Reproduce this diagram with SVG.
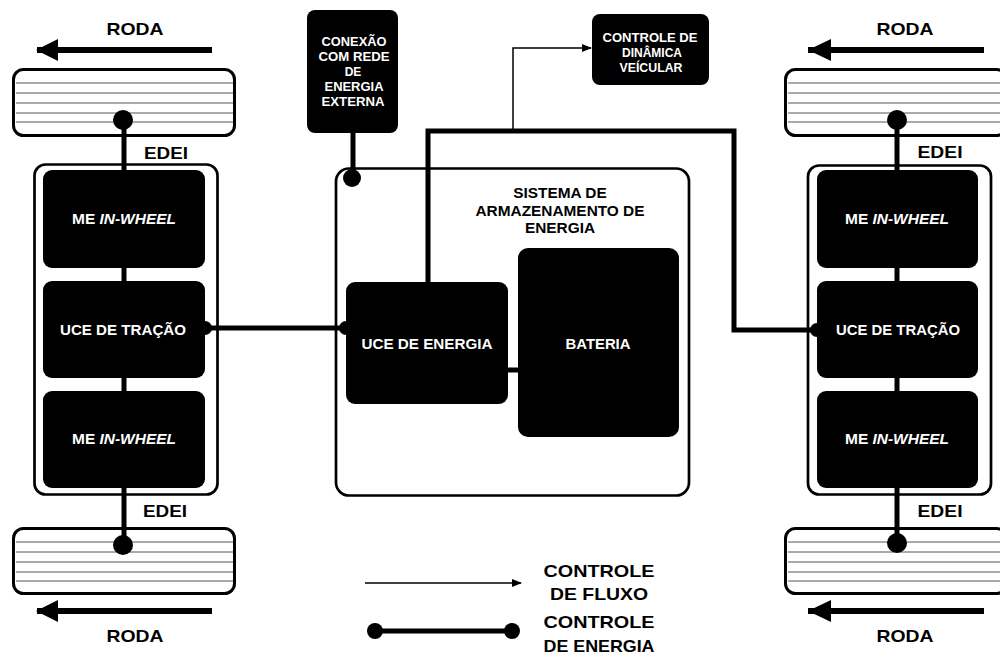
<svg xmlns="http://www.w3.org/2000/svg" width="1000" height="657" viewBox="0 0 1000 657">
<style>
text{font-family:"Liberation Sans",Arial,sans-serif;font-weight:bold;text-anchor:middle}
.w{fill:#fff}
.blk{fill:#000}
.wheel{fill:#fff;stroke:#000;stroke-width:3}
.tread{stroke:#555;stroke-width:1}
.cont{fill:#fff;stroke:#000;stroke-width:2.7}
.en{fill:none;stroke:#000;stroke-width:5}
.fl{fill:none;stroke:#000;stroke-width:1.5}
.big{font-size:17px}
.mid{font-size:14px}
.ttl{font-size:15.4px}
.sm{font-size:12px}
</style>
<defs>
<marker id="ah" markerWidth="10" markerHeight="8" refX="9" refY="4" orient="auto" markerUnits="userSpaceOnUse">
<path d="M0,0 L10,4 L0,8 Z" fill="#000"/>
</marker>
<g id="tl">
<line class="tread" x1="16" y1="0" x2="233" y2="0"/>
<line class="tread" x1="16" y1="10" x2="233" y2="10"/>
<line class="tread" x1="16" y1="20" x2="233" y2="20"/>
<line class="tread" x1="16" y1="30" x2="233" y2="30"/>
<line class="tread" x1="16" y1="39" x2="233" y2="39"/>
</g>
</defs>

<!-- wheels -->
<g id="wheel-tl">
<rect class="wheel" x="13.5" y="69.5" width="221" height="66" rx="10"/>
<use href="#tl" y="83"/>
<line x1="37" y1="50" x2="212" y2="50" stroke="#000" stroke-width="6"/>
<polygon points="36,50 58,39 58,61" fill="#000"/>
<text class="big" x="135" y="35" textLength="57" lengthAdjust="spacingAndGlyphs">RODA</text>
</g>
<g id="wheel-bl">
<rect class="wheel" x="13.5" y="528.5" width="221" height="65" rx="10"/>
<use href="#tl" y="542"/>
<line x1="37" y1="611" x2="212" y2="611" stroke="#000" stroke-width="6"/>
<polygon points="36,611 58,600 58,622" fill="#000"/>
<text class="big" x="135" y="642" textLength="57" lengthAdjust="spacingAndGlyphs">RODA</text>
</g>
<g id="wheel-tr">
<rect class="wheel" x="785.5" y="69.5" width="221" height="66" rx="10"/>
<use href="#tl" x="772" y="83"/>
<line x1="808" y1="50" x2="984" y2="50" stroke="#000" stroke-width="6"/>
<polygon points="808,50 831,39 831,61" fill="#000"/>
<text class="big" x="905" y="35" textLength="57" lengthAdjust="spacingAndGlyphs">RODA</text>
</g>
<g id="wheel-br">
<rect class="wheel" x="785.5" y="528.5" width="221" height="65" rx="10"/>
<use href="#tl" x="772" y="542"/>
<line x1="808" y1="611" x2="984" y2="611" stroke="#000" stroke-width="6"/>
<polygon points="808,611 831,600 831,622" fill="#000"/>
<text class="big" x="905" y="642" textLength="57" lengthAdjust="spacingAndGlyphs">RODA</text>
</g>

<!-- containers -->
<g id="edei-left">
<rect class="cont" x="34.5" y="164.5" width="183" height="330" rx="11"/>
<text class="big" x="166" y="159" textLength="44" lengthAdjust="spacingAndGlyphs">EDEI</text>
<text class="big" x="165" y="517" textLength="44" lengthAdjust="spacingAndGlyphs">EDEI</text>
</g>
<g id="edei-right">
<rect class="cont" x="808" y="165.5" width="183" height="329" rx="11"/>
<text class="big" x="940" y="158" textLength="45" lengthAdjust="spacingAndGlyphs">EDEI</text>
<text class="big" x="940" y="517" textLength="45" lengthAdjust="spacingAndGlyphs">EDEI</text>
</g>
<g id="sae">
<rect class="cont" x="336" y="168.5" width="353" height="327" rx="13" stroke-width="3"/>
<text class="ttl" x="560" y="198">SISTEMA DE</text>
<text class="ttl" x="560" y="216">ARMAZENAMENTO DE</text>
<text class="ttl" x="560" y="233">ENERGIA</text>
</g>

<!-- connectors -->
<g id="connectors">
<!-- wheel-motor links left -->
<line class="en" x1="124" y1="120" x2="124" y2="172"/>
<line class="en" x1="124" y1="266" x2="124" y2="283"/>
<line class="en" x1="124" y1="376" x2="124" y2="393"/>
<line class="en" x1="124" y1="486" x2="124" y2="546"/>
<circle cx="123" cy="120" r="10" fill="#000"/>
<circle cx="123" cy="545" r="10" fill="#000"/>
<!-- right -->
<line class="en" x1="897" y1="120" x2="897" y2="172"/>
<line class="en" x1="897" y1="266" x2="897" y2="283"/>
<line class="en" x1="897" y1="376" x2="897" y2="393"/>
<line class="en" x1="897" y1="486" x2="897" y2="543"/>
<circle cx="897" cy="120" r="10" fill="#000"/>
<circle cx="897" cy="543" r="10" fill="#000"/>
<!-- traction left to energy ECU -->
<line class="en" x1="205" y1="328" x2="346" y2="328"/>
<circle cx="205" cy="328" r="7" fill="#000"/>
<circle cx="346" cy="328" r="7" fill="#000"/>
<!-- energy ECU to right traction -->
<polyline class="en" points="428,284 428,131 734,131 734,330 817,330"/>
<circle cx="817" cy="330" r="7" fill="#000"/>
<!-- ECU to battery -->
<line class="en" x1="506" y1="370" x2="520" y2="370" stroke-width="7"/>
<!-- external grid -->
<line class="en" x1="353" y1="131" x2="353" y2="178"/>
<circle cx="352" cy="178" r="9" fill="#000"/>
<!-- flow control to vehicle dynamics -->
<polyline class="fl" points="513,131 513,48 591,48" marker-end="url(#ah)"/>
</g>

<!-- inner nodes -->
<g id="me-tl"><rect class="blk" x="43" y="170" width="162" height="98" rx="9"/>
<text class="mid w" x="124" y="224" textLength="104" lengthAdjust="spacingAndGlyphs">ME <tspan font-style="italic">IN-WHEEL</tspan></text></g>
<g id="uce-tracao-l"><rect class="blk" x="43" y="281" width="162" height="97" rx="9"/>
<text class="mid w" x="123" y="335" textLength="126" lengthAdjust="spacingAndGlyphs">UCE DE TRAÇÃO</text></g>
<g id="me-bl"><rect class="blk" x="43" y="391" width="162" height="97" rx="9"/>
<text class="mid w" x="124" y="444" textLength="104" lengthAdjust="spacingAndGlyphs">ME <tspan font-style="italic">IN-WHEEL</tspan></text></g>

<g id="me-tr"><rect class="blk" x="817" y="170" width="161" height="98" rx="9"/>
<text class="mid w" x="897" y="224" textLength="104" lengthAdjust="spacingAndGlyphs">ME <tspan font-style="italic">IN-WHEEL</tspan></text></g>
<g id="uce-tracao-r"><rect class="blk" x="817" y="281" width="161" height="97" rx="9"/>
<text class="mid w" x="898" y="335" textLength="124" lengthAdjust="spacingAndGlyphs">UCE DE TRAÇÃO</text></g>
<g id="me-br"><rect class="blk" x="817" y="391" width="161" height="97" rx="9"/>
<text class="mid w" x="897" y="444" textLength="104" lengthAdjust="spacingAndGlyphs">ME <tspan font-style="italic">IN-WHEEL</tspan></text></g>

<g id="uce-energia"><rect class="blk" x="346" y="282" width="162" height="122" rx="9"/>
<text class="mid w" x="427" y="349" textLength="131" lengthAdjust="spacingAndGlyphs">UCE DE ENERGIA</text></g>
<g id="bateria"><rect class="blk" x="518" y="248" width="161" height="189" rx="10"/>
<text class="mid w" x="598" y="349" textLength="65" lengthAdjust="spacingAndGlyphs">BATERIA</text></g>

<g id="conexao"><rect class="blk" x="307" y="10" width="91" height="123" rx="8"/>
<text class="sm w" x="354" y="46" textLength="65" lengthAdjust="spacingAndGlyphs">CONEXÃO</text>
<text class="sm w" x="354" y="61" textLength="71" lengthAdjust="spacingAndGlyphs">COM REDE</text>
<text class="sm w" x="353" y="76">DE</text>
<text class="sm w" x="354" y="91" textLength="59" lengthAdjust="spacingAndGlyphs">ENERGIA</text>
<text class="sm w" x="353" y="106" textLength="63" lengthAdjust="spacingAndGlyphs">EXTERNA</text></g>

<g id="controle-dinamica"><rect class="blk" x="592" y="14" width="117" height="71" rx="8"/>
<text class="sm w" x="650" y="42" textLength="95" lengthAdjust="spacingAndGlyphs">CONTROLE DE</text>
<text class="sm w" x="652" y="57" textLength="60" lengthAdjust="spacingAndGlyphs">DINÂMICA</text>
<text class="sm w" x="651" y="72" textLength="63" lengthAdjust="spacingAndGlyphs">VEÍCULAR</text></g>

<!-- legend -->
<g id="legend">
<line class="fl" x1="365" y1="583" x2="521" y2="583" marker-end="url(#ah)"/>
<line class="en" x1="375" y1="631" x2="512" y2="631"/>
<circle cx="375" cy="631" r="8" fill="#000"/>
<circle cx="512" cy="631" r="8" fill="#000"/>
<text class="big" x="599" y="577" textLength="111" lengthAdjust="spacingAndGlyphs">CONTROLE</text>
<text class="big" x="599" y="600" textLength="98" lengthAdjust="spacingAndGlyphs">DE FLUXO</text>
<text class="big" x="599" y="628" textLength="111" lengthAdjust="spacingAndGlyphs">CONTROLE</text>
<text class="big" x="599" y="652" textLength="111" lengthAdjust="spacingAndGlyphs">DE ENERGIA</text>
</g>
</svg>
